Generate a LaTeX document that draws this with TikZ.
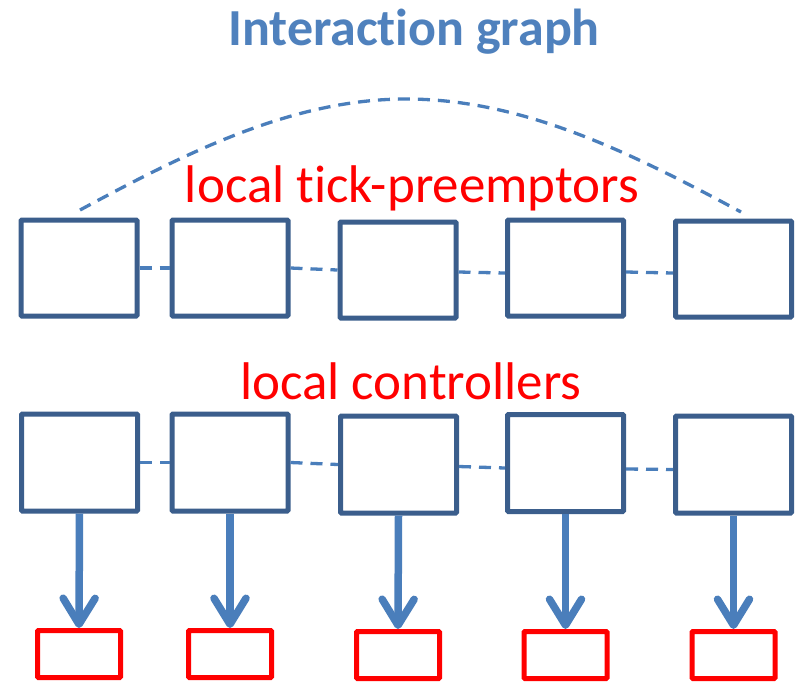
\documentclass[tikz,border=0pt]{standalone}
\usepackage{fontspec}
\setmainfont{Carlito}[Ligatures=NoCommon]
\usetikzlibrary{arrows.meta}
\definecolor{boxblue}{HTML}{3B5E8C}
\definecolor{lineblue}{HTML}{4A7EBB}
\definecolor{titleblue}{HTML}{4F81BD}
\definecolor{pred}{HTML}{FF0000}
\tikzset{
  ctrlbox/.style={draw=boxblue, line width=5pt, rectangle, minimum width=116pt, minimum height=96pt, inner sep=0pt, rounded corners=1pt},
  outbox/.style={draw=pred, line width=5pt, rectangle, minimum width=83pt, minimum height=47pt, inner sep=0pt, rounded corners=1pt},
  link/.style={draw=lineblue, line width=3.3pt, dash pattern=on 12pt off 8pt},
  outarrow/.style={draw=lineblue, line width=7.5pt, -{Straight Barb[length=26pt,width=32pt,round]}},
  bigtext/.style={font=\fontsize{53}{60}\selectfont, anchor=base, inner sep=0pt},
}
\begin{document}
\begin{tikzpicture}[x=1pt, y=-1pt]
\useasboundingbox (0,0) rectangle (797,681);
% title
\node[bigtext, text=titleblue, font=\fontsize{52}{60}\selectfont\bfseries] (title) at (414,45) {Interac\kern0pt tion graph};
\node[bigtext, text=pred] (lbltp) at (412,202) {local tick-preemptors};
\node[bigtext, text=pred] (lblc) at (411,399) {local controllers};
% top row
\node[ctrlbox] (t1) at (79,268) {};
\node[ctrlbox] (t2) at (230,268) {};
\node[ctrlbox] (t3) at (398,270) {};
\node[ctrlbox] (t4) at (565.5,268) {};
\node[ctrlbox] (t5) at (733.5,269) {};
% bottom row
\node[ctrlbox, minimum height=97pt] (c1) at (79.5,462.5) {};
\node[ctrlbox, minimum height=97pt] (c2) at (230,462.5) {};
\node[ctrlbox, minimum height=97pt] (c3) at (398.5,464.5) {};
\node[ctrlbox, minimum height=97pt] (c4) at (565.5,463) {};
\node[ctrlbox, minimum height=97pt] (c5) at (733.5,464.5) {};
% outputs
\node[outbox] (r1) at (79,654) {};
\node[outbox] (r2) at (230,654) {};
\node[outbox] (r3) at (398,655) {};
\node[outbox] (r4) at (565.5,655) {};
\node[outbox] (r5) at (733.5,655) {};
% dashed links
\draw[link] (t1.east) -- (t2.west);
\draw[link] (t2.east) -- (t3.west);
\draw[link] ([yshift=-2pt]t3.east) -- ([yshift=-5pt]t4.west);
\draw[link] ([yshift=-4pt]t4.east) -- ([yshift=-4pt]t5.west);
\draw[link] (c1.east) -- (c2.west);
\draw[link] (c2.east) -- (c3.west);
\draw[link] ([yshift=-2pt]c3.east) -- ([yshift=-5pt]c4.west);
\draw[link] ([yshift=-6pt]c4.east) -- ([yshift=-5pt]c5.west);
% big dashed arc
\coordinate (al) at (80,210);
\coordinate (ap) at (406,99);
\coordinate (ar) at (741,212);
\draw[link] (al) .. controls (186,153) and (292,99) .. (ap)
                 .. controls (524,99) and (633,154) .. (ar);
% arrows
\foreach \i in {1,...,5}{
  \draw[outarrow] (c\i.south) -- (r\i.north);
}
\end{tikzpicture}
\end{document}
